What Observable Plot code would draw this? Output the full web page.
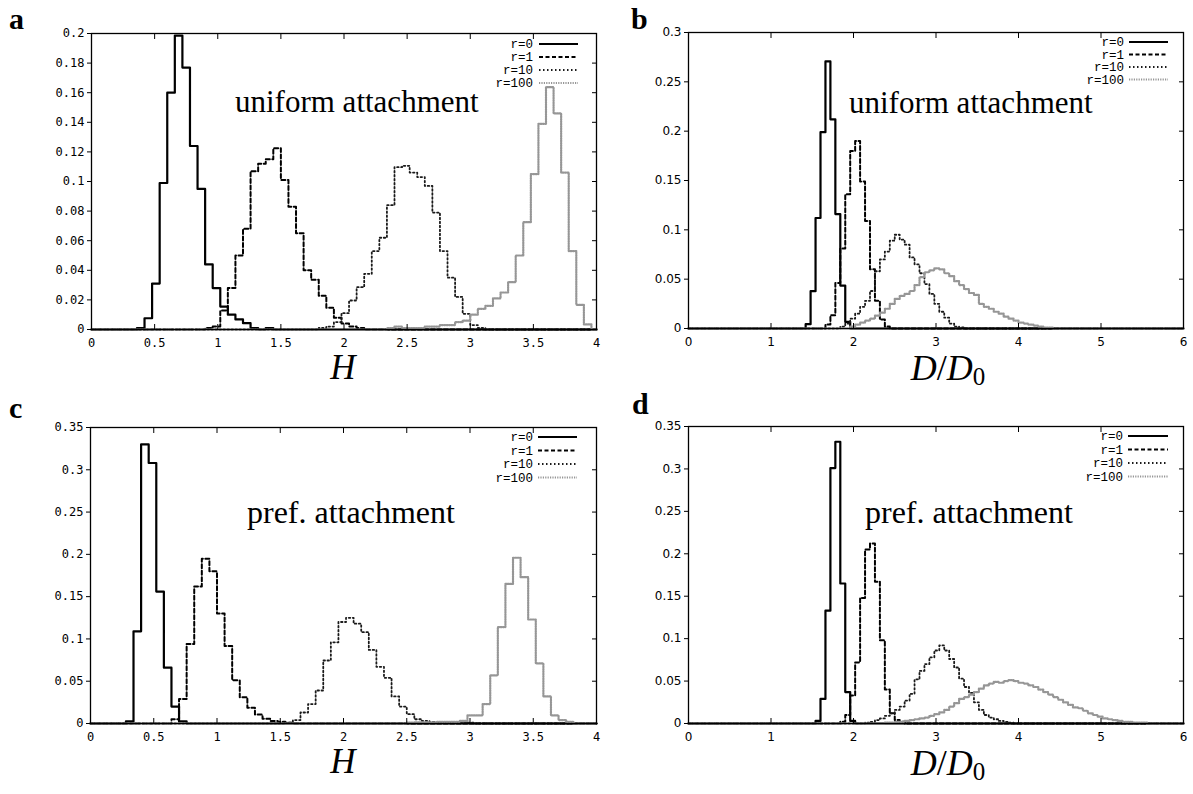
<!DOCTYPE html>
<html><head><meta charset="utf-8">
<script src="https://cdn.jsdelivr.net/npm/d3@7"></script>
<script src="https://cdn.jsdelivr.net/npm/@observablehq/plot@0.6"></script>
<style>
body{margin:0;background:#fff;}
#root{position:relative;width:1193px;height:794px;overflow:hidden;background:#fff;}
.panel{position:absolute;}
.panel svg{display:block;}
#overlay{position:absolute;left:0;top:0;}
</style></head>
<body><div id="root"></div>
<script>
// ---------- data ----------
const binWidth = 0.06;
const seriesNames = ["r=0", "r=1", "r=10", "r=100"];

// ticks
const ticksXH = [0, 0.5, 1, 1.5, 2, 2.5, 3, 3.5, 4];
const ticksXD = [0, 1, 2, 3, 4, 5, 6];
const ticksYa = [0, 0.02, 0.04, 0.06, 0.08, 0.1, 0.12, 0.14, 0.16, 0.18, 0.2];
const ticksYb = [0, 0.05, 0.1, 0.15, 0.2, 0.25, 0.3];
const ticksYc = [0, 0.05, 0.1, 0.15, 0.2, 0.25, 0.3, 0.35];
const ticksYd = [0, 0.05, 0.1, 0.15, 0.2, 0.25, 0.3, 0.35];

// panel a : H, uniform attachment (first bin left edge, then bin heights)
const aStarts = [0.36, 0.90, 1.80, 2.34];
const aR0 = [0.001, 0.0076, 0.031, 0.099, 0.160, 0.1986, 0.177, 0.124, 0.095, 0.044, 0.028, 0.0155, 0.010, 0.0068, 0.0043, 0.001, 0, 0.001];
const aR1 = [0.001, 0.002, 0.0128, 0.028, 0.050, 0.068, 0.107, 0.112, 0.115, 0.1225, 0.101, 0.083, 0.065, 0.040, 0.0336, 0.0228, 0.0147, 0.0080, 0.004, 0.002, 0.001];
const aR10 = [0.001, 0.002, 0.005, 0.011, 0.0196, 0.0286, 0.0376, 0.053, 0.062, 0.084, 0.1097, 0.1106, 0.106, 0.103, 0.097, 0.079, 0.053, 0.035, 0.022, 0.0106, 0.003, 0.001];
const aR100 = [0.001, 0.002, 0.001, 0.001, 0.001, 0.002, 0.002, 0.003, 0.003, 0.005, 0.006, 0.010, 0.014, 0.016, 0.021, 0.025, 0.032, 0.050, 0.0725, 0.105, 0.139, 0.1637, 0.146, 0.106, 0.053, 0.0167, 0.0034];

// panel b : D/D0, uniform attachment
const bStarts = [1.42, 1.66, 1.84, 1.96];
const bR0 = [0.0044, 0.0378, 0.112, 0.199, 0.2707, 0.212, 0.116, 0.0435, 0.0067];
const bR1 = [0.004, 0.0135, 0.046, 0.081, 0.136, 0.180, 0.190, 0.149, 0.109, 0.060, 0.028, 0.009, 0.002];
const bR10 = [0.002, 0.005, 0.010, 0.015, 0.022, 0.028, 0.038, 0.058, 0.070, 0.078, 0.089, 0.095, 0.090, 0.085, 0.072, 0.065, 0.056, 0.045, 0.035, 0.025, 0.017, 0.011, 0.005, 0.002, 0.001];
const bR100 = [0.002, 0.004, 0.006, 0.008, 0.010, 0.013, 0.016, 0.020, 0.025, 0.030, 0.033, 0.035, 0.038, 0.044, 0.052, 0.057, 0.059, 0.061, 0.060, 0.056, 0.053, 0.048, 0.044, 0.040, 0.036, 0.034, 0.025, 0.022, 0.020, 0.017, 0.015, 0.012, 0.010, 0.008, 0.006, 0.005, 0.004, 0.003, 0.002, 0.001, 0.001];

// panel c : H, preferential attachment
const cStarts = [0.28, 0.64, 1.54, 2.50];
const cR0 = [0.0024, 0.109, 0.330, 0.308, 0.156, 0.066, 0.020, 0.0024];
const cR1 = [0.005, 0.029, 0.094, 0.162, 0.1947, 0.180, 0.130, 0.0915, 0.051, 0.031, 0.0186, 0.0106, 0.0055, 0.003, 0.002, 0.001];
const cR10 = [0.001, 0.004, 0.013, 0.023, 0.039, 0.0745, 0.096, 0.120, 0.125, 0.118, 0.108, 0.087, 0.067, 0.054, 0.032, 0.020, 0.011, 0.005, 0.003, 0.002, 0.002, 0.002, 0.002, 0.002, 0.001];
const cR100 = [0.001, 0.0015, 0.0015, 0.0015, 0.002, 0.002, 0.002, 0.003, 0.0095, 0.0095, 0.023, 0.057, 0.114, 0.165, 0.196, 0.173, 0.123, 0.071, 0.032, 0.0095, 0.004, 0.002];

// panel d : D/D0, preferential attachment
const dStarts = [1.54, 1.84, 2.14, 2.38];
const dR0 = [0.003, 0.029, 0.133, 0.301, 0.332, 0.165, 0.037, 0.003];
const dR1 = [0.002, 0.010, 0.033, 0.072, 0.148, 0.205, 0.212, 0.167, 0.098, 0.040, 0.012, 0.004, 0.002];
const dR10 = [0.001, 0.002, 0.004, 0.006, 0.009, 0.012, 0.016, 0.020, 0.027, 0.035, 0.052, 0.062, 0.070, 0.078, 0.086, 0.092, 0.086, 0.076, 0.066, 0.053, 0.043, 0.036, 0.025, 0.016, 0.010, 0.007, 0.005, 0.003, 0.002, 0.001];
const dR100 = [0.001, 0.001, 0.002, 0.002, 0.003, 0.004, 0.005, 0.006, 0.007, 0.009, 0.011, 0.013, 0.016, 0.020, 0.024, 0.029, 0.031, 0.034, 0.037, 0.041, 0.045, 0.047, 0.049, 0.048, 0.050, 0.051, 0.050, 0.048, 0.047, 0.045, 0.043, 0.040, 0.037, 0.034, 0.031, 0.028, 0.025, 0.022, 0.019, 0.018, 0.015, 0.012, 0.010, 0.008, 0.006, 0.005, 0.004, 0.003, 0.002, 0.002, 0.001, 0.001, 0.001];

// ---------- drawing ----------
const lineStyles = [
  {stroke: "#000", strokeWidth: 2.2},
  {stroke: "#000", strokeWidth: 2, strokeDasharray: "4,2.5"},
  {stroke: "#1a1a1a", strokeWidth: 1.8, strokeDasharray: "1.5,2.5"},
  {stroke: "#969696", strokeWidth: 2.2, strokeDasharray: "1.2,1.2"}
];

function hist(start, values, xMax) {
  const pts = [{x: 0, y: 0}];
  values.forEach((v, i) => pts.push({x: +(start + i * binWidth).toFixed(4), y: v}));
  pts.push({x: +(start + values.length * binWidth).toFixed(4), y: 0});
  pts.push({x: xMax, y: 0});
  return pts;
}

const panels = [
  {id: "a", left: 0, top: 0, w: 600, h: 397, ml: 91, mr: 4, mt: 33, mb: 68, xMax: 4, yMax: 0.2,
   xt: ticksXH, yt: ticksYa, font: "DejaVu Sans Mono", starts: aStarts, data: [aR0, aR1, aR10, aR100]},
  {id: "b", left: 597, top: 0, w: 596, h: 397, ml: 91, mr: 10, mt: 32, mb: 69, xMax: 6, yMax: 0.3,
   xt: ticksXD, yt: ticksYb, font: "DejaVu Sans", starts: bStarts, data: [bR0, bR1, bR10, bR100]},
  {id: "c", left: 0, top: 394, w: 600, h: 397, ml: 90, mr: 4, mt: 33, mb: 68, xMax: 4, yMax: 0.35,
   xt: ticksXH, yt: ticksYc, font: "DejaVu Sans Mono", starts: cStarts, data: [cR0, cR1, cR10, cR100]},
  {id: "d", left: 597, top: 394, w: 596, h: 397, ml: 91, mr: 10, mt: 32, mb: 68, xMax: 6, yMax: 0.35,
   xt: ticksXD, yt: ticksYd, font: "DejaVu Sans", starts: dStarts, data: [dR0, dR1, dR10, dR100]}
];

const root = document.getElementById("root");
const fmt = d => String(d);

panels.forEach(p => {
  const marks = [];
  p.data.forEach((vals, i) => {
    marks.push(Plot.line(hist(p.starts[i], vals, p.xMax), {x: "x", y: "y", curve: "step-after", ...lineStyles[i]}));
  });
  marks.push(Plot.frame({stroke: "#000", strokeWidth: 1.3}));
  marks.push(Plot.axisY(p.yt, {anchor: "left", tickSize: 4, tickPadding: 3, tickFormat: fmt, label: null, fontFamily: p.font, fontSize: 12}));
  marks.push(Plot.axisY(p.yt, {anchor: "right", tickSize: -5, tickFormat: () => "", label: null}));
  marks.push(Plot.axisX(p.xt, {anchor: "bottom", tickSize: -5, tickPadding: 14, tickFormat: fmt, label: null, fontFamily: p.font, fontSize: 12}));
  marks.push(Plot.axisX(p.xt, {anchor: "top", tickSize: -5, tickFormat: () => "", label: null}));
  const chart = Plot.plot({
    width: p.w, height: p.h,
    marginLeft: p.ml, marginRight: p.mr, marginTop: p.mt, marginBottom: p.mb,
    x: {domain: [0, p.xMax]},
    y: {domain: [0, p.yMax]},
    style: {background: "transparent", color: "#000", overflow: "visible"},
    marks
  });
  const div = document.createElement("div");
  div.className = "panel";
  div.style.left = p.left + "px";
  div.style.top = p.top + "px";
  div.appendChild(chart);
  root.appendChild(div);
});

// ---------- overlay text: panel letters, annotations, axis titles, legends ----------
const svg = d3.select(root).append("svg").attr("id", "overlay").attr("width", 1193).attr("height", 794);
const serif = "'Liberation Serif', 'DejaVu Serif', serif";

[["a", 9, 29], ["b", 631, 29], ["c", 9, 418], ["d", 632, 414]].forEach(([t, x, y]) => {
  svg.append("text").attr("x", x).attr("y", y).attr("font-family", serif).attr("font-weight", "bold")
    .attr("font-size", 30).text(t);
});

[["uniform attachment", 235, 112, 31], ["uniform attachment", 849, 113, 31],
 ["pref. attachment", 247, 523, 32], ["pref. attachment", 865, 523, 32]].forEach(([t, x, y, s]) => {
  svg.append("text").attr("x", x).attr("y", y).attr("font-family", serif).attr("font-size", s).text(t);
});

// axis titles
[[343, 379], [343, 773]].forEach(([x, y]) => {
  svg.append("text").attr("x", x).attr("y", y).attr("text-anchor", "middle").attr("font-family", serif)
    .attr("font-style", "italic").attr("font-size", 35).text("H");
});
[[948, 380], [948, 775]].forEach(([x, y]) => {
  const t = svg.append("text").attr("x", x).attr("y", y).attr("text-anchor", "middle").attr("font-family", serif)
    .attr("font-size", 36);
  t.append("tspan").attr("font-style", "italic").text("D");
  t.append("tspan").text("/");
  t.append("tspan").attr("font-style", "italic").text("D");
  t.append("tspan").attr("font-size", 25).attr("dy", 5).text("0");
});

// legends
const legendPos = [
  {xText: 533, x1: 539, x2: 578, ys: [44, 57, 70, 83]},
  {xText: 1124, x1: 1129, x2: 1168, ys: [42, 54.5, 67, 79.5]},
  {xText: 533, x1: 538, x2: 577, ys: [437, 450.5, 464, 477.5]},
  {xText: 1123, x1: 1128, x2: 1168, ys: [436, 449.5, 463, 476.5]}
];
legendPos.forEach(L => {
  seriesNames.forEach((name, i) => {
    svg.append("text").attr("x", L.xText).attr("y", L.ys[i]).attr("dy", "0.35em").attr("text-anchor", "end")
      .attr("font-family", "'Liberation Mono', 'DejaVu Sans Mono', monospace").attr("font-size", 12.5).text(name);
    const st = lineStyles[i];
    svg.append("line").attr("x1", L.x1).attr("x2", L.x2).attr("y1", L.ys[i]).attr("y2", L.ys[i])
      .attr("stroke", st.stroke).attr("stroke-width", st.strokeWidth)
      .attr("stroke-dasharray", st.strokeDasharray || null);
  });
});
</script>
</body></html>
